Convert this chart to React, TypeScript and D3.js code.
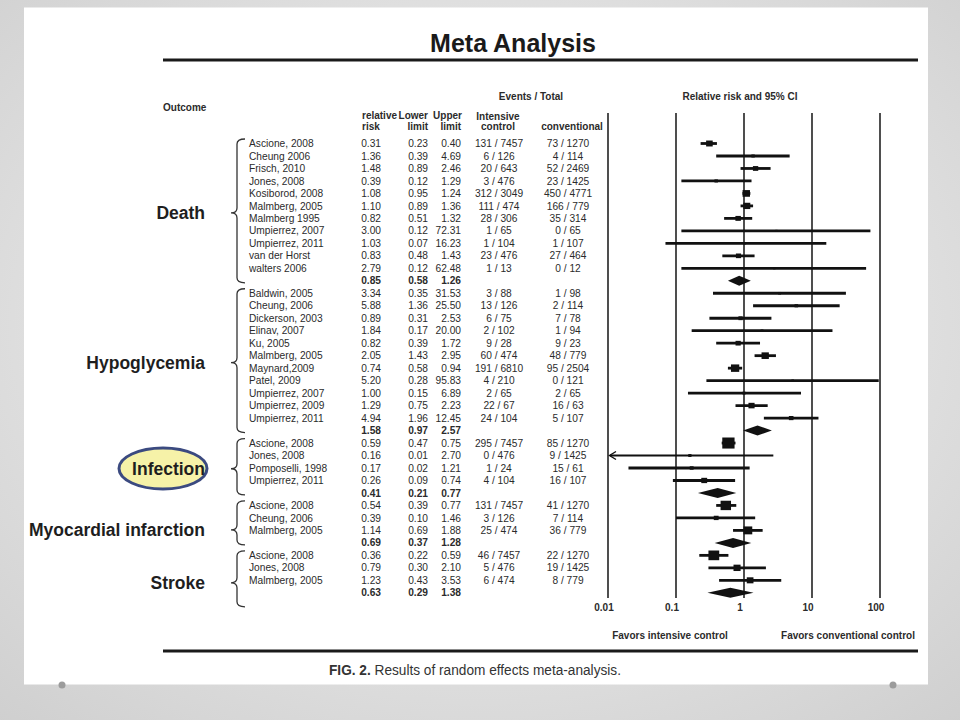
import React from "react";
import * as d3 from "d3";

// ---------- DATA ----------
const groups = ["Death", "Hypoglycemia", "Infection", "Myocardial infarction", "Stroke"];

const studyGroup = [
  0, 0, 0, 0, 0, 0, 0, 0, 0, 0, 0,
  1, 1, 1, 1, 1, 1, 1, 1, 1, 1, 1,
  2, 2, 2, 2,
  3, 3, 3,
  4, 4, 4,
];

const studyNames = [
  "Ascione, 2008", "Cheung 2006", "Frisch, 2010", "Jones, 2008", "Kosiborod, 2008", "Malmberg, 2005",
  "Malmberg 1995", "Umpierrez, 2007", "Umpierrez, 2011", "van der Horst", "walters 2006",
  "Baldwin, 2005", "Cheung, 2006", "Dickerson, 2003", "Elinav, 2007", "Ku, 2005", "Malmberg, 2005",
  "Maynard,2009", "Patel, 2009", "Umpierrez, 2007", "Umpierrez, 2009", "Umpierrez, 2011",
  "Ascione, 2008", "Jones, 2008", "Pomposelli, 1998", "Umpierrez, 2011",
  "Ascione, 2008", "Cheung, 2006", "Malmberg, 2005",
  "Ascione, 2008", "Jones, 2008", "Malmberg, 2005",
];

const relativeRisk = [
  0.31, 1.36, 1.48, 0.39, 1.08, 1.10, 0.82, 3.00, 1.03, 0.83, 2.79,
  3.34, 5.88, 0.89, 1.84, 0.82, 2.05, 0.74, 5.20, 1.00, 1.29, 4.94,
  0.59, 0.16, 0.17, 0.26,
  0.54, 0.39, 1.14,
  0.36, 0.79, 1.23,
];

const lowerLimit = [
  0.23, 0.39, 0.89, 0.12, 0.95, 0.89, 0.51, 0.12, 0.07, 0.48, 0.12,
  0.35, 1.36, 0.31, 0.17, 0.39, 1.43, 0.58, 0.28, 0.15, 0.75, 1.96,
  0.47, 0.01, 0.02, 0.09,
  0.39, 0.10, 0.69,
  0.22, 0.30, 0.43,
];

const upperLimit = [
  0.40, 4.69, 2.46, 1.29, 1.24, 1.36, 1.32, 72.31, 16.23, 1.43, 62.48,
  31.53, 25.50, 2.53, 20.00, 1.72, 2.95, 0.94, 95.83, 6.89, 2.23, 12.45,
  0.75, 2.70, 1.21, 0.74,
  0.77, 1.46, 1.88,
  0.59, 2.10, 3.53,
];

const intensiveEvents = [
  131, 6, 20, 3, 312, 111, 28, 1, 1, 23, 1,
  3, 13, 6, 2, 9, 60, 191, 4, 2, 22, 24,
  295, 0, 1, 4,
  131, 3, 25,
  46, 5, 6,
];
const intensiveTotal = [
  7457, 126, 643, 476, 3049, 474, 306, 65, 104, 476, 13,
  88, 126, 75, 102, 28, 474, 6810, 210, 65, 67, 104,
  7457, 476, 24, 104,
  7457, 126, 474,
  7457, 476, 474,
];
const conventionalEvents = [
  73, 4, 52, 23, 450, 166, 35, 0, 1, 27, 0,
  1, 2, 7, 1, 9, 48, 95, 0, 2, 16, 5,
  85, 9, 15, 16,
  41, 7, 36,
  22, 19, 8,
];
const conventionalTotal = [
  1270, 114, 2469, 1425, 4771, 779, 314, 65, 107, 464, 12,
  98, 114, 78, 94, 23, 779, 2504, 121, 65, 63, 107,
  1270, 1425, 61, 107,
  1270, 114, 779,
  1270, 1425, 779,
];

const summaryRR = [0.85, 1.58, 0.41, 0.69, 0.63];
const summaryLower = [0.58, 0.97, 0.21, 0.37, 0.29];
const summaryUpper = [1.26, 2.57, 0.77, 1.28, 1.38];

const axisTicks = [0.01, 0.1, 1, 10, 100];
const axisTickLabels = ["0.01", "0.1", "1", "10", "100"];

// ---------- LAYOUT ----------
const FONT = "'Liberation Sans', Arial, Helvetica, sans-serif";
const NARROW = "'Liberation Sans Narrow', 'Liberation Sans', Arial, sans-serif";
const INK = "#222";
const TXT = "#2b2b2b";
const labelTipShift = [2, 2, 2, 7, 4];
const braceBottomExtra = [0, 0, 0, 0, 12];

type Row = { kind: "study" | "summary"; group: number; idx: number; row: number };

const rows: Row[] = [];
{
  let r = 0;
  groups.forEach((_, gi) => {
    studyGroup.forEach((sg, si) => {
      if (sg === gi) rows.push({ kind: "study", group: gi, idx: si, row: r++ });
    });
    rows.push({ kind: "summary", group: gi, idx: gi, row: r++ });
  });
}
const nRows = rows.length;

// display weights (random-effects style, from CI width)
const rawW = relativeRisk.map((_, i) => {
  const se = (Math.log(upperLimit[i]) - Math.log(lowerLimit[i])) / (2 * 1.96);
  return 1 / (se * se + 0.04);
});
const groupSum = groups.map((_, gi) =>
  d3.sum(rawW.filter((_, i) => studyGroup[i] === gi))
);
const markerSide = rawW.map((w, i) => 1.5 + 12 * Math.sqrt(w / groupSum[studyGroup[i]]));

function bracePath(x: number, y1: number, y2: number, ym: number, wEnd: number, wTip: number) {
  const r = 5;
  return [
    `M${x + wEnd},${y1}`,
    `Q${x},${y1} ${x},${y1 + r}`,
    `L${x},${ym - r}`,
    `Q${x},${ym} ${x - wTip},${ym}`,
    `Q${x},${ym} ${x},${ym + r}`,
    `L${x},${y2 - r}`,
    `Q${x},${y2} ${x + wEnd},${y2}`,
  ].join(" ");
}

export default function App() {
  const W = 960;
  const H = 720;
  const y = d3.scaleLinear().domain([0, nRows - 1]).range([143.5, 592.8]);
  const x = d3.scaleLog().domain([0.01, 100]).range([608, 880]);
  const fmt = d3.format(".2f");

  const colName = 249;
  const colRR = 381;
  const colLow = 428;
  const colUp = 461;
  const colInt = 499;
  const colConv = 568;

  const fs = 10.2;
  const dy = 3.6;

  return (
    <svg
      width={W}
      height={H}
      viewBox={`0 0 ${W} ${H}`}
      style={{ position: "absolute", left: 0, top: 0, display: "block" }}
      fontFamily={FONT}
    >
      <defs>
        <radialGradient id="slidebg" cx="50%" cy="45%" r="75%">
          <stop offset="0%" stopColor="#f7f7f7" />
          <stop offset="100%" stopColor="#cfcfcf" />
        </radialGradient>
      </defs>
      <rect x={0} y={0} width={W} height={H} fill="url(#slidebg)" />
      <rect x={24} y={7.5} width={904} height={677} fill="#ffffff" />
      <circle cx={62} cy={685} r={3.5} fill="#9c9c9c" />
      <circle cx={893} cy={685} r={3.5} fill="#9c9c9c" />

      {/* title */}
      <text x={513} y={52} textAnchor="middle" fontSize={25} fontWeight="bold" fill="#1a1a1a">
        Meta Analysis
      </text>
      <line x1={163} x2={918} y1={60} y2={60} stroke="#1a1a1a" strokeWidth={3} />

      {/* headers */}
      <g fontWeight="bold" fontSize={10} fill={TXT}>
        <text x={163} y={111}>Outcome</text>
        <text x={531} y={100} textAnchor="middle">Events / Total</text>
        <text x={740} y={100} textAnchor="middle">Relative risk and 95% CI</text>
        <text x={362} y={119}>relative</text>
        <text x={362} y={130}>risk</text>
        <text x={428} y={119} textAnchor="end">Lower</text>
        <text x={428} y={130} textAnchor="end">limit</text>
        <text x={462} y={119} textAnchor="end">Upper</text>
        <text x={461} y={130} textAnchor="end">limit</text>
        <text x={498} y={120} textAnchor="middle">Intensive</text>
        <text x={498} y={130} textAnchor="middle">control</text>
        <text x={572} y={130} textAnchor="middle">conventional</text>
      </g>

      {/* group labels + braces */}
      {groups.map((g, gi) => {
        const gr = rows.filter((r) => r.group === gi);
        const top = y(gr[0].row) - 4.5;
        const bot = y(gr[gr.length - 1].row) + 2 + braceBottomExtra[gi];
        const tip = (top + bot) / 2 + labelTipShift[gi];
        return (
          <g key={g}>
            <path d={bracePath(237, top, bot, tip, 8, 6)} fill="none" stroke="#333" strokeWidth={1.3} />
            {g === "Infection" && (
              <ellipse cx={163} cy={468.5} rx={44} ry={20.5} fill="#f6f2a8" stroke="#3b4a80" strokeWidth={3} />
            )}
            <text x={205} y={tip + 6} textAnchor="end" fontSize={17.5} fontWeight="bold" fill="#1e1e1e">
              {g}
            </text>
          </g>
        );
      })}

      {/* table rows */}
      <g fontSize={fs} fill={TXT}>
        {rows.map((r) => {
          const yy = y(r.row) + dy;
          if (r.kind === "summary") {
            return (
              <g key={`s${r.row}`} fontWeight="bold">
                <text x={colRR} y={yy} textAnchor="end">{fmt(summaryRR[r.idx])}</text>
                <text x={colLow} y={yy} textAnchor="end">{fmt(summaryLower[r.idx])}</text>
                <text x={colUp} y={yy} textAnchor="end">{fmt(summaryUpper[r.idx])}</text>
              </g>
            );
          }
          const i = r.idx;
          return (
            <g key={`r${r.row}`}>
              <text x={colName} y={yy}>{studyNames[i]}</text>
              <text x={colRR} y={yy} textAnchor="end">{fmt(relativeRisk[i])}</text>
              <text x={colLow} y={yy} textAnchor="end">{fmt(lowerLimit[i])}</text>
              <text x={colUp} y={yy} textAnchor="end">{fmt(upperLimit[i])}</text>
              <text x={colInt} y={yy} textAnchor="middle">{`${intensiveEvents[i]} / ${intensiveTotal[i]}`}</text>
              <text x={colConv} y={yy} textAnchor="middle">{`${conventionalEvents[i]} / ${conventionalTotal[i]}`}</text>
            </g>
          );
        })}
      </g>

      {/* forest plot reference lines */}
      {axisTicks.map((t) => (
        <line key={t} x1={x(t)} x2={x(t)} y1={113} y2={598} stroke={INK} strokeWidth={1.6} />
      ))}

      {/* study CIs and markers */}
      {rows.map((r) => {
        const yy = y(r.row);
        if (r.kind === "summary") {
          const l = x(summaryLower[r.idx]);
          const u = x(summaryUpper[r.idx]);
          const m = x(summaryRR[r.idx]);
          const h = 5;
          return (
            <path key={`d${r.row}`} d={`M${l},${yy} L${m},${yy - h} L${u},${yy} L${m},${yy + h} Z`} fill="#111" />
          );
        }
        const i = r.idx;
        const clipped = lowerLimit[i] <= x.domain()[0];
        const l = x(Math.max(lowerLimit[i], x.domain()[0]));
        const u = x(Math.min(upperLimit[i], x.domain()[1]));
        const m = x(relativeRisk[i]);
        const s = markerSide[i];
        return (
          <g key={`m${r.row}`}>
            <line x1={clipped ? l + 2 : l} x2={u} y1={yy} y2={yy} stroke="#111" strokeWidth={clipped ? 2 : 2.8} />
            {clipped && (
              <path d={`M${l + 8},${yy - 4} L${l + 1.5},${yy} L${l + 8},${yy + 4}`} fill="none" stroke="#111" strokeWidth={1.4} />
            )}
            <rect x={m - s / 2} y={yy - (s * 0.9) / 2} width={s} height={s * 0.9} fill="#111" />
          </g>
        );
      })}

      {/* axis labels */}
      <g fontSize={10} fontWeight="bold" fill={TXT}>
        {axisTicks.map((t, k) => (
          <text key={t} x={x(t) - 4} y={611} textAnchor="middle">{axisTickLabels[k]}</text>
        ))}
        <text x={670} y={639} textAnchor="middle">Favors intensive control</text>
        <text x={848} y={639} textAnchor="middle">Favors conventional control</text>
      </g>

      <line x1={163} x2={918} y1={651} y2={651} stroke="#1a1a1a" strokeWidth={3} />

      <text x={329} y={675} fontSize={14} fontFamily={NARROW} fill="#333" textLength={292} lengthAdjust="spacingAndGlyphs">
        <tspan fontWeight="bold">FIG. 2.</tspan>
        <tspan>{"  Results of random effects meta-analysis."}</tspan>
      </text>
    </svg>
  );
}
